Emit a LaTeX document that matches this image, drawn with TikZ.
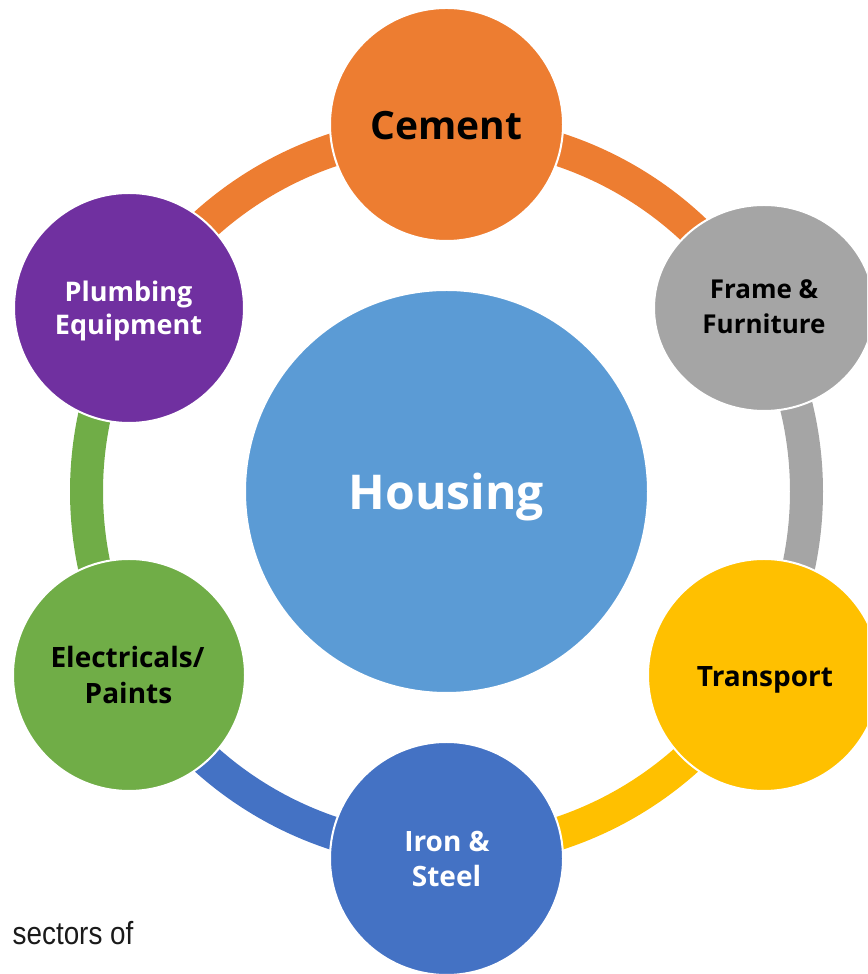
\documentclass[tikz,border=0pt]{standalone}
\usepackage{fontspec}
\usetikzlibrary{shapes.geometric}
\setmainfont{Open Sans}
\newfontfamily\narrowfont{Liberation Sans}[FakeStretch=0.87]
\definecolor{cOrange}{HTML}{ED7D31}
\definecolor{cGray}{HTML}{A5A5A5}
\definecolor{cYellow}{HTML}{FFC000}
\definecolor{cBlue}{HTML}{4472C4}
\definecolor{cGreen}{HTML}{70AD47}
\definecolor{cPurple}{HTML}{7030A0}
\definecolor{cHouse}{HTML}{5B9BD5}
\definecolor{cText}{HTML}{000000}
\definecolor{cNote}{HTML}{1A1A1A}
\tikzset{
  bubble/.style={circle, draw=white, line width=2pt, inner sep=0pt, minimum size=#1},
  lbl/.style={font=\bfseries\fontsize{#1}{#1}\selectfont, anchor=base, inner sep=0pt},
  band/.style={line width=33pt, #1}
}
\begin{document}
\begin{tikzpicture}[x=1pt,y=1pt]
\useasboundingbox (0,0) rectangle (867,974);
\clip (0,0) rectangle (867,974);
% centre
\coordinate (O) at (446.5,482.5);
% ring bands
\draw[band=cOrange] ([shift={(90:360pt)}]O) arc[start angle=90, end angle=30, radius=360pt];
\draw[band=cGray] ([shift={(30:360pt)}]O) arc[start angle=30, end angle=-30, radius=360pt];
\draw[band=cYellow] ([shift={(-30:360pt)}]O) arc[start angle=-30, end angle=-90, radius=360pt];
\draw[band=cBlue] ([shift={(-90:360pt)}]O) arc[start angle=-90, end angle=-150, radius=360pt];
\draw[band=cGreen] ([shift={(210:360pt)}]O) arc[start angle=210, end angle=150, radius=360pt];
\draw[band=cOrange] ([shift={(150:360pt)}]O) arc[start angle=150, end angle=90, radius=360pt];
% circles
\node[bubble=403pt, fill=cHouse] (H) at (O) {};
\node[bubble=233pt, fill=cOrange] (C) at (446.5,849.5) {};
\node[ellipse, draw=white, line width=2pt, inner sep=0pt, minimum width=220pt, minimum height=206pt, fill=cGray] (F) at (764,666) {};
\node[bubble=232pt, fill=cYellow] (T) at (764,299) {};
\node[bubble=233pt, fill=cBlue] (I) at (446.5,115.5) {};
\node[bubble=232pt, fill=cGreen] (E) at (129,299) {};
\node[bubble=230pt, fill=cPurple] (P) at (129,666) {};
% labels
\node[lbl=48, white] (Ht) at (446.5,464) {Housing};
\node[lbl=39, cText] (Ct) at (446.5,834) {Cement};
\node[lbl=26, cText] (Ft1) at (764,675) {Frame \&};
\node[lbl=26, cText] (Ft2) at (764,640) {Furniture};
\node[lbl=28, cText] (Tt) at (765,287) {Transport};
\node[lbl=27, white] (Pt1) at (128.5,672) {Plumbing};
\node[lbl=27, white] (Pt2) at (128.5,639) {Equipment};
\node[lbl=28, cText] (Et1) at (127.5,306) {Electricals/};
\node[lbl=28, cText] (Et2) at (128.5,270) {Paints};
\node[lbl=28, white] (It1) at (447,122) {Iron \&};
\node[lbl=28, white] (It2) at (446.5,87) {Steel};
\node[anchor=base west, inner sep=0pt, text=cNote, font=\narrowfont\fontsize{32}{32}\selectfont] (S) at (12.5,29) {sectors of};
\end{tikzpicture}
\end{document}
